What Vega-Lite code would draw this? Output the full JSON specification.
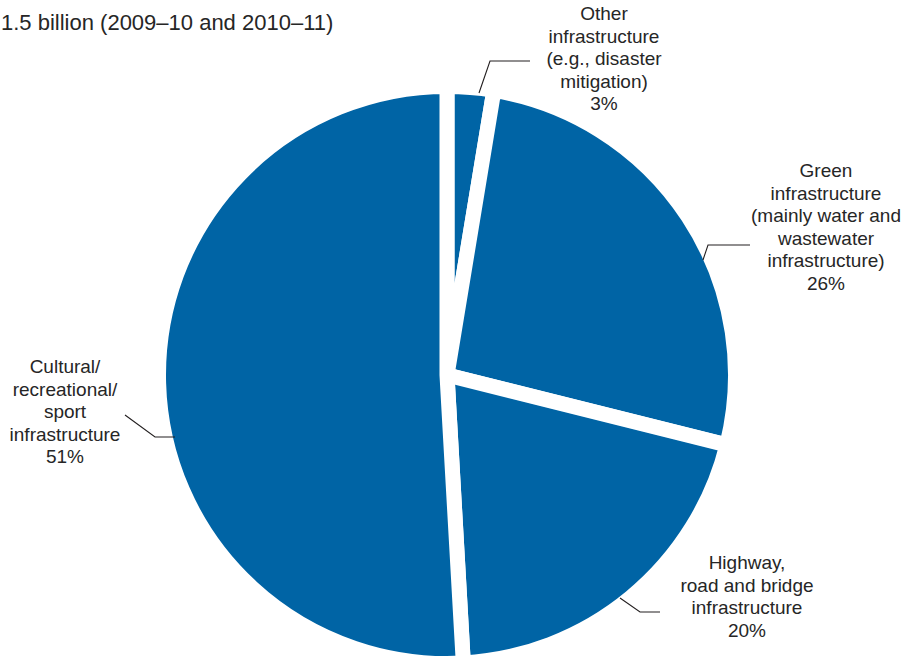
{
  "$schema": "https://vega.github.io/schema/vega-lite/v6.json",
  "width": 908,
  "height": 659,
  "autosize": {"type": "none"},
  "padding": 0,
  "background": "white",
  "config": {"view": {"stroke": null}},
  "datasets": {
    "shares": [
      {"category": "Other infrastructure (e.g., disaster mitigation)", "share": 2.6},
      {"category": "Green infrastructure (mainly water and wastewater infrastructure)", "share": 26.3},
      {"category": "Highway, road and bridge infrastructure", "share": 20.2},
      {"category": "Cultural/recreational/sport infrastructure", "share": 50.9}
    ],
    "leaders": [
      {"slice": "Other", "x": 32, "y": 282},
      {"slice": "Other", "x": 43, "y": 314},
      {"slice": "Other", "x": 83, "y": 314},
      {"slice": "Green", "x": 256, "y": 115},
      {"slice": "Green", "x": 261, "y": 130},
      {"slice": "Green", "x": 303, "y": 130},
      {"slice": "Cultural", "x": -322, "y": -40},
      {"slice": "Cultural", "x": -292, "y": -62},
      {"slice": "Cultural", "x": -272, "y": -62},
      {"slice": "Highway", "x": 173, "y": -223},
      {"slice": "Highway", "x": 193, "y": -237},
      {"slice": "Highway", "x": 213, "y": -237}
    ],
    "labels": [
      {"label": "Other\ninfrastructure\n(e.g., disaster\nmitigation)\n3%", "x": 157, "y": 361},
      {"label": "Green\ninfrastructure\n(mainly water and\nwastewater\ninfrastructure)\n26%", "x": 379, "y": 204},
      {"label": "Cultural/\nrecreational/\nsport\ninfrastructure\n51%", "x": -382, "y": 8},
      {"label": "Highway,\nroad and bridge\ninfrastructure\n20%", "x": 300, "y": -188}
    ],
    "heading": [
      {"text": "1.5 billion (2009–10 and 2010–11)", "x": -446, "y": 345}
    ]
  },
  "layer": [
    {
      "data": {"name": "shares"},
      "mark": {"type": "arc", "outerRadius": 288.5, "fill": "#0064A5", "stroke": "white", "strokeWidth": 15, "strokeJoin": "miter"},
      "encoding": {
        "theta": {"field": "share", "type": "quantitative", "stack": true},
        "x": {"datum": 0, "type": "quantitative", "scale": {"domain": [-447, 461], "nice": false, "zero": false}, "axis": null},
        "y": {"datum": 0, "type": "quantitative", "scale": {"domain": [-284, 375], "nice": false, "zero": false}, "axis": null}
      }
    },
    {
      "data": {"name": "leaders"},
      "mark": {"type": "line", "color": "#231F20", "strokeWidth": 1.1},
      "encoding": {
        "x": {"field": "x", "type": "quantitative", "scale": {"domain": [-447, 461], "nice": false, "zero": false}, "axis": null},
        "y": {"field": "y", "type": "quantitative", "scale": {"domain": [-284, 375], "nice": false, "zero": false}, "axis": null},
        "detail": {"field": "slice"}
      }
    },
    {
      "data": {"name": "labels"},
      "mark": {"type": "text", "align": "center", "baseline": "middle", "fontSize": 19, "lineHeight": 22.6, "lineBreak": "\n", "font": "Liberation Sans", "color": "#262626"},
      "encoding": {
        "x": {"field": "x", "type": "quantitative", "scale": {"domain": [-447, 461], "nice": false, "zero": false}, "axis": null},
        "y": {"field": "y", "type": "quantitative", "scale": {"domain": [-284, 375], "nice": false, "zero": false}, "axis": null},
        "text": {"field": "label"}
      }
    },
    {
      "data": {"name": "heading"},
      "mark": {"type": "text", "align": "left", "baseline": "alphabetic", "fontSize": 22, "font": "Liberation Sans", "color": "#262626"},
      "encoding": {
        "x": {"field": "x", "type": "quantitative", "scale": {"domain": [-447, 461], "nice": false, "zero": false}, "axis": null},
        "y": {"field": "y", "type": "quantitative", "scale": {"domain": [-284, 375], "nice": false, "zero": false}, "axis": null},
        "text": {"field": "text"}
      }
    }
  ]
}
